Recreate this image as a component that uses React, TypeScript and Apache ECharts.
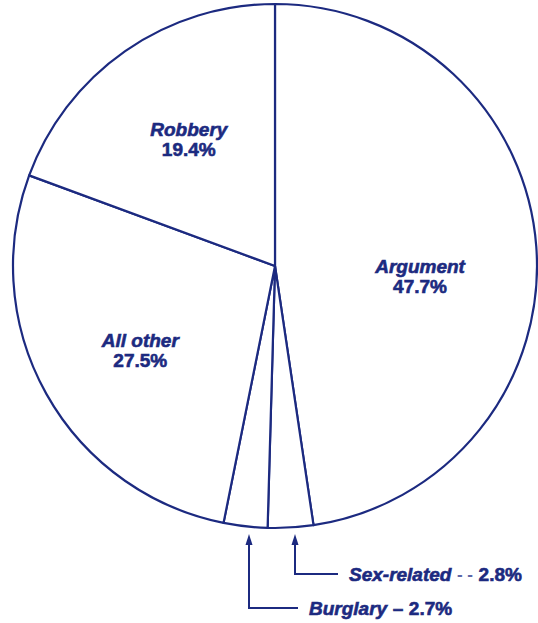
import React, { useEffect, useRef } from "react";
import * as echarts from "echarts";

const categories = ["Argument", "Sex-related", "Burglary", "All other", "Robbery"];
const values = [47.7, 2.8, 2.7, 27.5, 19.4];
const valueLabels = ["47.7%", "2.8%", "2.7%", "27.5%", "19.4%"];

const INK = "#1c2a80";
const CX = 275;
const CY = 266;
const R = 262;
// inside label placement (layout only): radial fraction and angular offset from mid-angle (deg)
const insidePos: Record<string, { f: number; da: number }> = {
  Argument: { f: 0.555, da: 8.4 },
  "All other": { f: 0.607, da: -2.9 },
  Robbery: { f: 0.584, da: 0.6 },
};
// callout layout for small slices (layout only)
const callouts: Record<string, { cornerY: number; run: number; dash: string; dashStyle: string }> = {
  "Sex-related": { cornerY: 574, run: 43, dash: "- -", dashStyle: "dl" },
  Burglary: { cornerY: 608, run: 49, dash: "–", dashStyle: "dd" },
};

export default function App() {
  const ref = useRef<HTMLDivElement>(null);
  useEffect(() => {
    document.body.style.margin = "0";
    if (!ref.current) return;
    const chart = echarts.init(ref.current, undefined, { renderer: "svg" });
    const total = values.reduce((a, b) => a + b, 0);
    const mids: number[] = [];
    let acc = 0;
    values.forEach((v) => {
      mids.push(((acc + v / 2) / total) * Math.PI * 2);
      acc += v;
    });

    const font = "Liberation Sans, Arial, sans-serif";
    const rich = {
      n: { fontFamily: font, fontStyle: "italic", fontWeight: "bold", fontSize: 19, color: INK, lineHeight: 20, textBorderColor: INK, textBorderWidth: 0.6 },
      v: { fontFamily: font, fontWeight: "bold", fontSize: 19, color: INK, lineHeight: 20, textBorderColor: INK, textBorderWidth: 0.6 },
    };
    const gRich = {
      n: { fontFamily: font, fontStyle: "italic", fontWeight: "bold", fontSize: 19, fill: INK, stroke: INK, lineWidth: 0.6, lineHeight: 20 },
      v: { fontFamily: font, fontWeight: "bold", fontSize: 19, fill: INK, stroke: INK, lineWidth: 0.6, lineHeight: 20 },
      dl: { fontFamily: font, fontWeight: "bold", fontSize: 17, fill: "#5d68a8", lineHeight: 20 },
      dd: { fontFamily: font, fontWeight: "bold", fontSize: 19, fill: INK, stroke: INK, lineWidth: 0.6, lineHeight: 20 },
      s: { fontFamily: font, fontSize: 10, lineHeight: 20 },
    };

    const data = categories.map((name, i) => ({
      name,
      value: values[i],
      label: { show: insidePos[name] !== undefined },
    }));

    const graphics: any[] = [];
    categories.forEach((name, i) => {
      const c = callouts[name];
      if (!c) return;
      const x = Math.round(CX + R * Math.sin(mids[i]) + 4);
      const tipY = CY + R + 6;
      graphics.push({
        type: "polyline",
        silent: true,
        shape: { points: [[x, tipY + 6], [x, c.cornerY], [x + c.run, c.cornerY]] },
        style: { stroke: INK, lineWidth: 2, fill: null },
      });
      graphics.push({
        type: "polygon",
        silent: true,
        shape: { points: [[x, tipY], [x - 3.5, tipY + 11], [x + 3.5, tipY + 11]] },
        style: { fill: INK },
      });
      graphics.push({
        type: "text",
        silent: true,
        x: x + c.run + 11,
        y: c.cornerY,
        style: {
          text: `{n|${name}}{s|  }{${c.dashStyle}|${c.dash}}{s|  }{v|${valueLabels[i]}}`,
          rich: gRich,
          verticalAlign: "middle",
          align: "left",
        },
      });
    });

    chart.setOption({
      animation: false,
      graphic: graphics,
      series: [
        {
          type: "pie",
          center: [CX, CY],
          radius: R,
          startAngle: 90,
          clockwise: true,
          silent: true,
          avoidLabelOverlap: false,
          itemStyle: { color: "#ffffff", borderColor: INK, borderWidth: 2.2 },
          emphasis: { disabled: true },
          label: {
            position: "inside",
            formatter: (p: any) => `{n|${p.name}}\n{v|${valueLabels[p.dataIndex]}}`,
            rich,
            align: "center",
          },
          labelLine: { show: false },
          labelLayout: (p: any) => {
            const i = p.dataIndex;
            const pos = insidePos[categories[i]];
            if (!pos) return {};
            const a = mids[i] + (pos.da * Math.PI) / 180;
            return {
              x: CX + pos.f * R * Math.sin(a),
              y: CY - pos.f * R * Math.cos(a),
              align: "center",
              verticalAlign: "middle",
            };
          },
          data,
        },
      ],
    });
    return () => chart.dispose();
  }, []);
  return <div ref={ref} style={{ width: 538, height: 623 }} />;
}
